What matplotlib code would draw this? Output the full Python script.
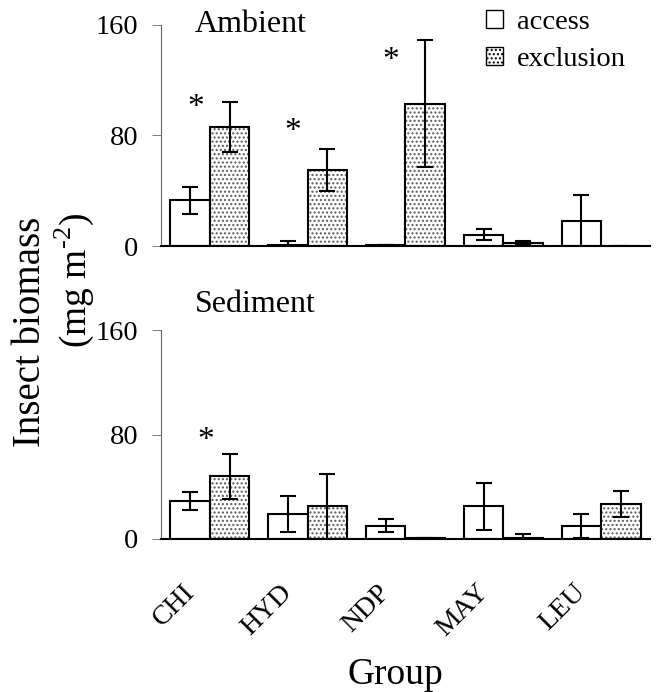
import numpy as np
import matplotlib.pyplot as plt
import matplotlib.transforms as mtransforms
from matplotlib.patches import Patch

plt.rcParams['font.family'] = ['Liberation Serif', 'DejaVu Serif']
plt.rcParams['mathtext.fontset'] = 'custom'
plt.rcParams['mathtext.rm'] = 'Liberation Serif'
plt.rcParams['hatch.linewidth'] = 1.0

groups = ['CHI', 'HYD', 'NDP', 'MAY', 'LEU']

# Ambient
amb_access = [33, 1, 0.5, 8, 18]
amb_access_err = [10, 2.5, 0, 4, 19]
amb_excl = [86, 55, 103, 2, 0]
amb_excl_err = [18, 15, 46, 1.5, 0]

# Sediment
sed_access = [29, 19, 10, 25, 10]
sed_access_err = [7, 14, 5, 18, 9]
sed_excl = [48, 25, 0.5, 1, 27]
sed_excl_err = [17, 25, 0, 2.5, 10]

# significance marks: (group index, offset, y)
amb_stars = [(0, -0.14, 100), (1, -0.15, 83), (2, -0.15, 134)]
sed_stars = [(0, -0.04, 75)]

x = np.arange(len(groups))
w = 0.404

fig = plt.figure(figsize=(6.56, 6.92), dpi=100)
ax1 = fig.add_axes([0.2454, 0.6445, 0.7454, 0.3194])
ax2 = fig.add_axes([0.2454, 0.2211, 0.7454, 0.302])


def draw(ax, acc, acc_err, exc, exc_err, stars, label, label_y):
    ax.bar(x - w / 2, acc, w, color='white', edgecolor='black', linewidth=1.5)
    ax.bar(x + w / 2, exc, w, color='white', edgecolor='0.35', linewidth=0, hatch='....')
    ax.bar(x + w / 2, exc, w, fill=False, edgecolor='black', linewidth=1.5)
    ax.errorbar(x - w / 2, acc, yerr=acc_err, fmt='none', ecolor='black',
                elinewidth=1.5, capsize=6, capthick=1.5)
    ax.errorbar(x + w / 2, exc, yerr=exc_err, fmt='none', ecolor='black',
                elinewidth=1.5, capsize=6, capthick=1.5)
    for g, off, y in stars:
        ax.text(g + off, y, '*', ha='center', va='center', fontsize=24)
    ax.set_xlim(-0.5, 4.5)
    ax.set_ylim(0, 160)
    ax.set_yticks([0, 80, 160])
    ax.tick_params(axis='y', labelsize=20.5, direction='out', length=6.5, width=0.6,
                   color='0.4', pad=10)
    ax.tick_params(axis='x', length=0)
    ax.spines['top'].set_visible(False)
    ax.spines['right'].set_visible(False)
    ax.spines['left'].set_color('0.4')
    ax.spines['left'].set_linewidth(0.8)
    ax.spines['bottom'].set_linewidth(1.5)
    ax.text(0.07, label_y, label, transform=ax.transAxes, fontsize=23, va='center')


draw(ax1, amb_access, amb_access_err, amb_excl, amb_excl_err, amb_stars, 'Ambient', 1.0)
draw(ax2, sed_access, sed_access_err, sed_excl, sed_excl_err, sed_stars, 'Sediment', 1.12)

ax1.set_xticks(x)
ax1.set_xticklabels([])
ax2.set_xticks(x)
ax2.set_xticklabels(groups, rotation=45, ha='right', va='top', rotation_mode='anchor',
                    fontsize=20)
shift = mtransforms.ScaledTranslation(-28 / 100, -36 / 100, fig.dpi_scale_trans)
for lab in ax2.get_xticklabels():
    lab.set_transform(lab.get_transform() + shift)

fig.text(0.603, 0.025, 'Group', fontsize=27, ha='center', va='center')

handles = [Patch(facecolor='white', edgecolor='black', label='access'),
           Patch(facecolor='white', edgecolor='black', hatch='....', label='exclusion')]
fig.legend(handles=handles, loc='upper left', bbox_to_anchor=(0.71, 1.014), frameon=False,
           fontsize=20.5, handlelength=0.6, handleheight=0.6, handletextpad=0.5,
           labelspacing=0.42, borderpad=0.2)

fig.text(0.046, 0.52, 'Insect biomass', rotation=90, fontsize=28, ha='center', va='center')
fig.text(0.113, 0.595, r'(mg m$^{\text{-2}}$)', rotation=90, fontsize=27, ha='center',
         va='center')

fig.savefig('out.png', dpi=100)
